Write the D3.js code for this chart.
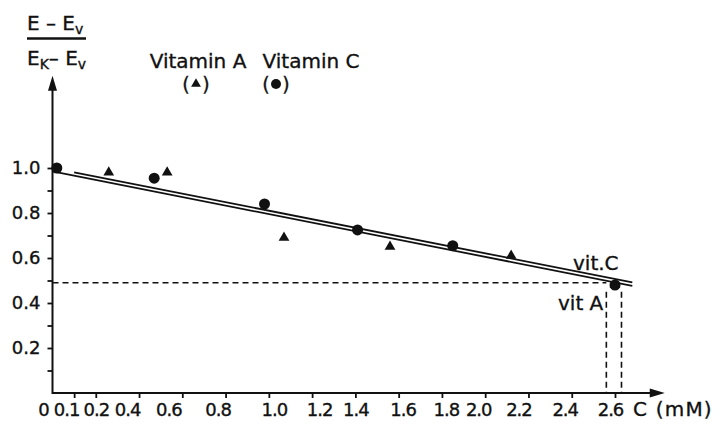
<!DOCTYPE html>
<html lang="en">
<head>
<meta charset="utf-8">
<title>vitamin A / C</title>
<script src="https://cdn.jsdelivr.net/npm/d3@7"></script>
<style>
  body { margin: 0; background: #fff; }
  text { font-family: "DejaVu Sans", sans-serif; fill: #111; stroke: #111; stroke-width: 0.35px; }
</style>
</head>
<body>
<script>
// data
var vitC_x = [0.02, 0.47, 0.98, 1.41, 1.85, 2.60];
var vitC_y = [1.00, 0.955, 0.84, 0.725, 0.655, 0.48];
var vitA_x = [0.26, 0.53, 1.07, 1.56, 2.12, 2.60];
var vitA_y = [0.98, 0.98, 0.69, 0.65, 0.61, 0.48];

// fitted lines (start / end)
var lineA_x = [0.10, 2.68];
var lineA_y = [0.981, 0.492];
var lineC_x = [0.00, 2.68];
var lineC_y = [0.985, 0.476];

var xTicks = [0.1, 0.2, 0.4, 0.6, 0.8, 1.0, 1.2, 1.4, 1.6, 1.8, 2.0, 2.2, 2.4, 2.6];
var yTicks = [0.1, 0.2, 0.3, 0.4, 0.5, 0.6, 0.7, 0.8, 0.9, 1.0];
var yLabels = [0.2, 0.4, 0.6, 0.8, 1.0];

var guideY = 0.49;
var guideX = [2.56, 2.63];

var w = 725, h = 431;
var ink = "#111";

var x = d3.scaleLinear().domain([0, 2.6]).range([52.5, 615]);
var y = d3.scaleLinear().domain([0, 1]).range([393, 168]);

var svg = d3.select("body").append("svg")
  .attr("width", w).attr("height", h);

svg.append("rect").attr("width", w).attr("height", h).attr("fill", "#fff");

// axes
var xAxis = d3.axisBottom(x)
  .tickValues(xTicks)
  .tickSize(5)
  .tickPadding(5)
  .tickFormat(function(d) { return d.toFixed(1); });

var gx = svg.append("g").attr("transform", "translate(0," + y(0) + ")").call(xAxis);
gx.select(".domain").remove();
gx.selectAll(".tick line").attr("stroke", ink).attr("stroke-width", 1.8);
gx.selectAll(".tick text").attr("font-size", 18).attr("fill", ink)
  .attr("letter-spacing", -1)
  .attr("font-family", null);

// the hand lettering sits a little off some ticks
var shift = {"0.1": -8, "0.4": -12, "0.6": -14, "0.8": -8, "1.0": 5, "1.2": 7, "1.6": 4, "1.8": 4,
             "2.0": -7, "2.2": -10, "2.4": -7, "2.6": -5};
gx.selectAll(".tick text").attr("dx", function(d) { return shift[d.toFixed(1)] || 0; });

var yAxis = d3.axisLeft(y)
  .tickValues(yTicks)
  .tickSize(5)
  .tickPadding(7)
  .tickFormat(function(d) {
    return yLabels.some(function(v) { return Math.abs(v - d) < 1e-6; }) ? d.toFixed(1) : "";
  });

var gy = svg.append("g").attr("transform", "translate(" + x(0) + ",0)").call(yAxis);
gy.select(".domain").remove();
gy.selectAll(".tick line").attr("stroke", ink).attr("stroke-width", 1.8);
gy.selectAll(".tick text").attr("font-size", 18).attr("fill", ink)
  .attr("font-family", null);

// axis lines with arrow heads
var xEnd = x(2.83), yEnd = y(1.41);
svg.append("line")
  .attr("x1", x(0)).attr("y1", y(0)).attr("x2", xEnd - 6).attr("y2", y(0))
  .attr("stroke", ink).attr("stroke-width", 2);
svg.append("line")
  .attr("x1", x(0)).attr("y1", y(0) + 1).attr("x2", x(0)).attr("y2", yEnd + 6)
  .attr("stroke", ink).attr("stroke-width", 2);
svg.append("path")
  .attr("d", "M" + xEnd + "," + y(0) + " l-15,-4.5 l0,9 z")
  .attr("fill", ink);
svg.append("path")
  .attr("d", "M" + x(0) + "," + yEnd + " l-4.5,15 l9,0 z")
  .attr("fill", ink);

// origin label and x title
svg.append("text").attr("x", 44).attr("y", 415.5).attr("text-anchor", "middle")
  .attr("font-size", 18).text("0");
svg.append("text").attr("x", 633).attr("y", 415.5)
  .attr("font-size", 20).attr("letter-spacing", 1.2).text("C (mM)");

// y title as a fraction
var num = svg.append("text").attr("x", 27).attr("y", 30).attr("font-size", 20);
num.append("tspan").text("E – E");
num.append("tspan").attr("font-size", 14).attr("dy", 4).text("v");
svg.append("line").attr("x1", 27).attr("x2", 86).attr("y1", 38.5).attr("y2", 38.5)
  .attr("stroke", ink).attr("stroke-width", 2.4);
var den = svg.append("text").attr("x", 27).attr("y", 65).attr("font-size", 20);
den.append("tspan").text("E");
den.append("tspan").attr("font-size", 14).attr("dy", 4).text("K");
den.append("tspan").attr("dy", -4).text("– E");
den.append("tspan").attr("font-size", 14).attr("dy", 4).text("v");

// legend
svg.append("text").attr("x", 198).attr("y", 68).attr("text-anchor", "middle")
  .attr("font-size", 20).text("Vitamin A");
svg.append("text").attr("x", 311).attr("y", 68).attr("text-anchor", "middle")
  .attr("font-size", 20).text("Vitamin C");
[196, 276].forEach(function(cx) {
  svg.append("text").attr("x", cx - 10).attr("y", 91).attr("text-anchor", "middle")
    .attr("font-size", 19).text("(");
  svg.append("text").attr("x", cx + 10).attr("y", 91).attr("text-anchor", "middle")
    .attr("font-size", 19).text(")");
});
svg.append("path").attr("d", d3.symbol(d3.symbolTriangle, 42)())
  .attr("transform", "translate(196,84)").attr("fill", ink);
svg.append("circle").attr("cx", 276).attr("cy", 84).attr("r", 5).attr("fill", ink);

// dashed guides
svg.append("line")
  .attr("x1", x(0)).attr("x2", x(guideX[0])).attr("y1", y(guideY)).attr("y2", y(guideY))
  .attr("stroke", ink).attr("stroke-width", 1.6).attr("stroke-dasharray", "6,4");
svg.selectAll("line.guide")
  .data(guideX)
  .enter()
  .append("line")
  .attr("class", "guide")
  .attr("x1", function(d) { return x(d); })
  .attr("x2", function(d) { return x(d); })
  .attr("y1", y(0.45)).attr("y2", y(0))
  .attr("stroke", ink).attr("stroke-width", 1.6).attr("stroke-dasharray", "6,4");

// fitted lines
var fits = [[lineA_x, lineA_y], [lineC_x, lineC_y]];
svg.selectAll("line.fit")
  .data(fits)
  .enter()
  .append("line")
  .attr("class", "fit")
  .attr("x1", function(d) { return x(d[0][0]); })
  .attr("y1", function(d) { return y(d[1][0]); })
  .attr("x2", function(d) { return x(d[0][1]); })
  .attr("y2", function(d) { return y(d[1][1]); })
  .attr("stroke", ink).attr("stroke-width", 1.8);

// points
svg.selectAll("circle.vc")
  .data(vitC_x)
  .enter()
  .append("circle")
  .attr("class", "vc")
  .attr("cx", function(d) { return x(d); })
  .attr("cy", function(d, i) { return y(vitC_y[i]); })
  .attr("r", 5.5)
  .attr("fill", ink);

svg.selectAll("path.va")
  .data(vitA_x)
  .enter()
  .append("path")
  .attr("class", "va")
  .attr("d", d3.symbol(d3.symbolTriangle, 50)())
  .attr("transform", function(d, i) { return "translate(" + x(d) + "," + y(vitA_y[i]) + ")"; })
  .attr("fill", ink);

// end labels
svg.append("text").attr("x", 573).attr("y", 270).attr("font-size", 20).text("vit.C");
svg.append("text").attr("x", 558).attr("y", 310).attr("font-size", 20).text("vit A");
</script>
</body>
</html>
